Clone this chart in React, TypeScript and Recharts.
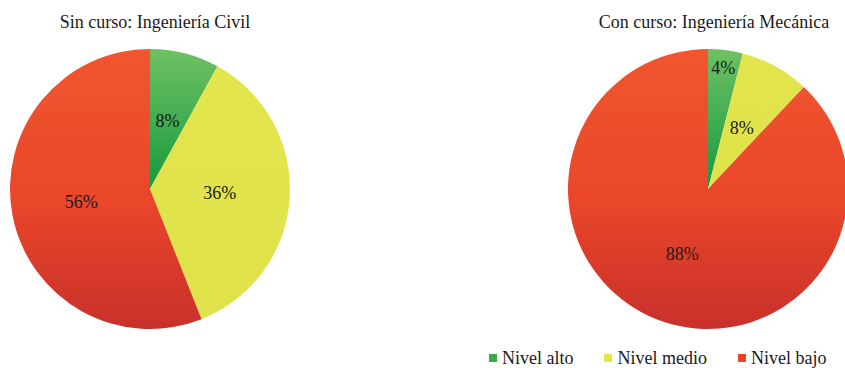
import React from 'react';
import { PieChart, Pie, Cell, Legend } from 'recharts';

const categories = ['Nivel alto', 'Nivel medio', 'Nivel bajo'];
const civilValues = [8, 36, 56];
const mecanicaValues = [4, 8, 88];
const chartTitles = ['Sin curso: Ingeniería Civil', 'Con curso: Ingeniería Mecánica'];

const civilData = categories.map((name, i) => ({ name, value: civilValues[i] }));
const mecanicaData = categories.map((name, i) => ({ name, value: mecanicaValues[i] }));

const gradIds = ['gradAlto', 'gradMedio', 'gradBajo'];
const legendColors = ['#3aaa4a', '#e2e44a', '#ea4426'];
const FONT = '"Liberation Serif", Tinos, serif';
const RAD = Math.PI / 180;

const renderLabel = (props: any) => {
  const { cx, cy, midAngle, outerRadius, percent, value } = props;
  const r = percent < 0.05 ? outerRadius * 0.87 : outerRadius * 0.5;
  const x = cx + r * Math.cos(-midAngle * RAD);
  const y = cy + r * Math.sin(-midAngle * RAD);
  return (
    <text x={x} y={y} textAnchor="middle" dominantBaseline="central" fill="#1a1a1a"
      style={{ fontFamily: FONT, fontSize: 18 }}>
      {`${value}%`}
    </text>
  );
};

const renderLegend = () => (
  <div style={{ display: 'flex', whiteSpace: 'nowrap', fontFamily: FONT, fontSize: 18, color: '#1a1a1a', lineHeight: '18px' }}>
    {categories.map((c, i) => (
      <div key={c} style={{ display: 'flex', alignItems: 'center', marginRight: i < categories.length - 1 ? 31 : 0 }}>
        <span style={{ display: 'inline-block', width: 8, height: 8, background: legendColors[i], marginRight: 5 }} />
        <span>{c}</span>
      </div>
    ))}
  </div>
);

export default function App() {
  return (
    <div style={{ position: 'absolute', left: 0, top: 0, width: 845, height: 368, background: '#fff', overflow: 'hidden', fontFamily: FONT }}>
      <PieChart width={845} height={368} margin={{ top: 0, right: 0, bottom: 0, left: 0 }}>
        <defs>
          <linearGradient id="gradAlto" x1="0" y1="0" x2="0" y2="1">
            <stop offset="0%" stopColor="#70c064" />
            <stop offset="100%" stopColor="#169a3e" />
          </linearGradient>
          <linearGradient id="gradMedio" x1="0" y1="0" x2="0" y2="1">
            <stop offset="0%" stopColor="#e3e54c" />
            <stop offset="100%" stopColor="#e0e24a" />
          </linearGradient>
          <linearGradient id="gradBajo" x1="0" y1="0" x2="0" y2="1">
            <stop offset="0%" stopColor="#f0562f" />
            <stop offset="55%" stopColor="#e9462a" />
            <stop offset="100%" stopColor="#c8302a" />
          </linearGradient>
        </defs>
        <Pie data={civilData} dataKey="value" nameKey="name" cx={150} cy={189} outerRadius={140}
          startAngle={90} endAngle={-270} stroke="none" label={renderLabel} labelLine={false}
          isAnimationActive={false}>
          {civilData.map((d, i) => <Cell key={d.name} fill={`url(#${gradIds[i]})`} />)}
        </Pie>
        <Pie data={mecanicaData} dataKey="value" nameKey="name" cx={708} cy={189} outerRadius={140}
          startAngle={90} endAngle={-270} stroke="none" label={renderLabel} labelLine={false}
          isAnimationActive={false}>
          {mecanicaData.map((d, i) => <Cell key={d.name} fill={`url(#${gradIds[i]})`} />)}
        </Pie>
        <Legend content={renderLegend} wrapperStyle={{ position: 'absolute', left: 489, top: 349, width: 356 }} />
      </PieChart>
      <svg width={845} height={368} style={{ position: 'absolute', left: 0, top: 0, pointerEvents: 'none' }}>
        <text x={155} y={28} textAnchor="middle" fill="#1a1a1a" style={{ fontFamily: FONT, fontSize: 18 }}>{chartTitles[0]}</text>
        <text x={714} y={28} textAnchor="middle" fill="#1a1a1a" style={{ fontFamily: FONT, fontSize: 18 }}>{chartTitles[1]}</text>
      </svg>
    </div>
  );
}
